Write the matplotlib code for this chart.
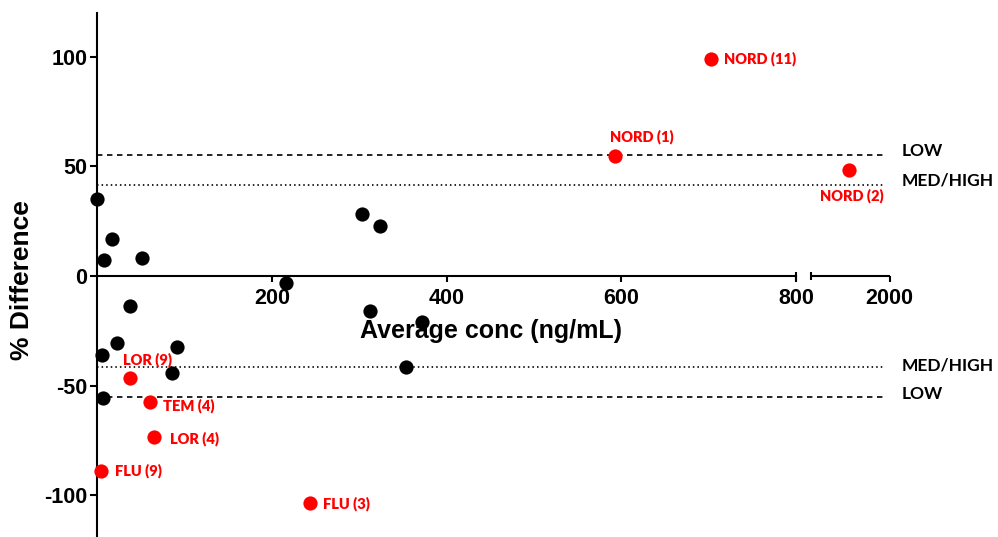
import numpy as np
import matplotlib
matplotlib.use("Agg")
import matplotlib.pyplot as plt
from matplotlib import transforms

plt.rcParams['font.family'] = ['Liberation Sans', 'DejaVu Sans']
plt.rcParams['lines.scale_dashes'] = False
plt.rcParams['axes.unicode_minus'] = False

# black points: unflagged samples
black_x = [0, 16.5, 7.7, 51, 303, 323.6, 216, 37, 312, 22, 5.7, 91, 85, 6.9, 372, 353]
black_y = [35.1, 16.9, 7.4, 8.1, 28.1, 22.8, -3.0, -13.5, -15.8, -30.4, -36.0, -32.2,
           -44.1, -55.8, -20.8, -41.3]

# red points: flagged samples with labels
red_labels = ['NORD (11)', 'NORD (1)', 'NORD (2)', 'LOR (9)', 'TEM (4)', 'LOR (4)', 'FLU (9)', 'FLU (3)']
red_x = [702, 593, 1954, 38, 60, 65, 4, 243]
red_y = [99.1, 54.9, 48.3, -46.7, -57.3, -73.3, -88.9, -103.7]

# acceptance limits
low_limit = 55.0
medhigh_limit = 41.5

x_ticks = [200, 400, 600, 800, 2000]
y_ticks = [-100, -50, 0, 50, 100]

# broken x axis: 0-800 linear, short gap, then 1910-2000
BRK = 800
X2 = 1910
GAP = 17.0


def fwd(x):
    x = np.asarray(x, dtype=float)
    return np.where(x <= BRK, x,
                    np.where(x < X2, BRK + (x - BRK) * GAP / (X2 - BRK),
                             BRK + GAP + (x - X2)))


def inv(u):
    u = np.asarray(u, dtype=float)
    return np.where(u <= BRK, u,
                    np.where(u < BRK + GAP, BRK + (u - BRK) * (X2 - BRK) / GAP,
                             X2 + (u - BRK - GAP)))


fig = plt.figure(figsize=(9.98, 5.37), dpi=100)
ax = fig.add_axes([97.3 / 998, -2 / 537, 792.3 / 998, 526 / 537])
ax.set_xscale('function', functions=(fwd, inv))
ax.set_xlim(0, 2000)
ax.set_ylim(-120, 120)

for s in ['top', 'right']:
    ax.spines[s].set_visible(False)
ax.spines['bottom'].set_position(('data', 0))
ax.spines['bottom'].set_bounds(0, BRK)
ax.spines['left'].set_linewidth(1.5)
ax.spines['bottom'].set_linewidth(1.5)

# second piece of the x axis, with break caps
ax.plot([X2, 2000], [0, 0], color='black', lw=1.5, clip_on=False, solid_capstyle='butt')
ax.plot([BRK, X2], [0, 0], ls='none', marker='|', ms=6, mew=1.5, color='black', clip_on=False)

ax.set_xticks(x_ticks)
ax.set_xticklabels([str(t) for t in x_ticks])
ax.set_yticks(y_ticks)
ax.tick_params(axis='both', direction='out', width=1.5, labelsize=15.5)
ax.tick_params(axis='x', length=4, pad=5)
ax.tick_params(axis='y', length=5, pad=2)
for lab in ax.get_xticklabels() + ax.get_yticklabels():
    lab.set_fontweight('bold')

# limit lines
x_end = 1995
for v in [low_limit, -low_limit]:
    ax.hlines(v, 0, x_end, colors='black', lw=1.2, linestyles=[(0, (3.9, 3.3))], zorder=1)
for v in [medhigh_limit, -medhigh_limit]:
    ax.hlines(v, 0, x_end, colors='black', lw=1.2, linestyles=[(0, (1.1, 2.2))], zorder=1)

trans = transforms.blended_transform_factory(ax.transAxes, ax.transData)
lim_text = [('LOW', low_limit, 3.0), ('MED/HIGH', medhigh_limit, 3.5),
            ('MED/HIGH', -medhigh_limit, 1.2), ('LOW', -low_limit, 2.0)]
for txt, v, dy in lim_text:
    ax.annotate(txt, xy=(1.0, v), xycoords=trans, xytext=(8.4, dy), textcoords='offset points',
                ha='left', va='center', fontsize=12.5, family=['Lato', 'DejaVu Sans'],
                fontweight='bold', annotation_clip=False)

ax.scatter(black_x, black_y, s=105, color='black', zorder=3, clip_on=False, linewidths=0)
ax.scatter(red_x, red_y, s=105, color='#ff0000', zorder=3, clip_on=False, linewidths=0)

# label offsets in pixels (dx, dy up) and horizontal alignment
label_offsets = [(13, 0, 'left'), (-5, 19, 'left'), (2, -26, 'center'), (-7.6, 19, 'left'),
                 (13, -4, 'left'), (16, -1.6, 'left'), (14, 0, 'left'), (13, -0.7, 'left')]
for txt, x, y, (dx, dy, ha) in zip(red_labels, red_x, red_y, label_offsets):
    ax.annotate(txt, xy=(x, y), xytext=(dx * 0.72, dy * 0.72), textcoords='offset points',
                ha=ha, va='center', fontsize=10.5, color='#ff0000', fontweight='heavy',
                family=['Lato', 'DejaVu Sans'], annotation_clip=False)

ax.set_xlabel('Average conc (ng/mL)', fontsize=18, fontweight='bold')
ax.xaxis.label.set_va('center')
ax.xaxis.set_label_coords((491 - 97.3) / 792.3, (539 - 331) / 526)
ax.set_ylabel('% Difference', fontsize=19, fontweight='bold')
ax.yaxis.label.set_va('center')
ax.yaxis.set_label_coords((22 - 97.3) / 792.3, (539 - 280) / 526)

fig.savefig('out.png', dpi=100)
